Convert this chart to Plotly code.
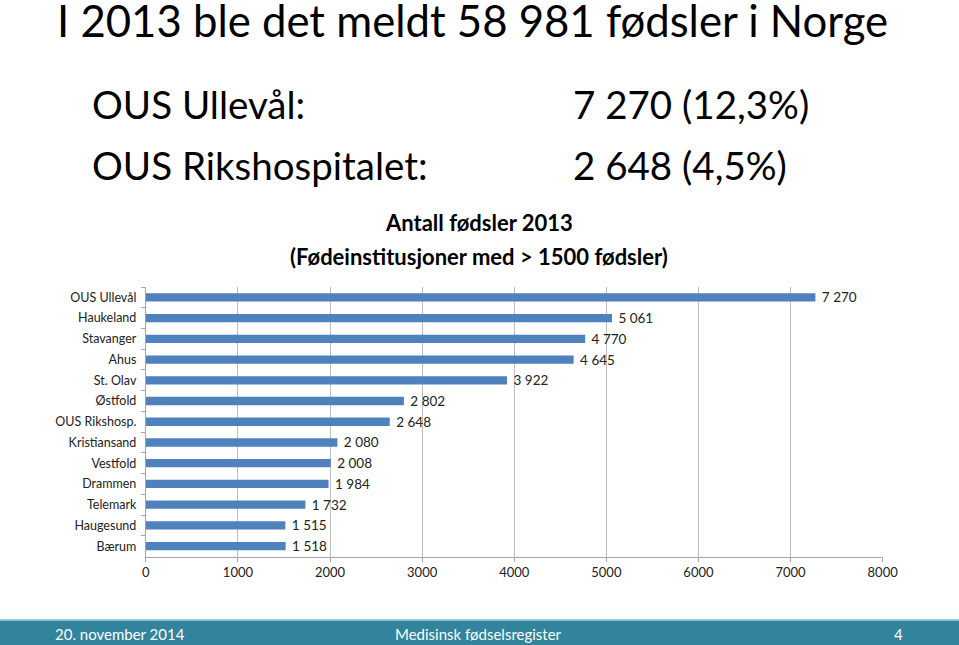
import plotly.graph_objects as go

categories = ["OUS Ullevål", "Haukeland", "Stavanger", "Ahus", "St. Olav", "Østfold",
              "OUS Rikshosp.", "Kristiansand", "Vestfold", "Drammen", "Telemark",
              "Haugesund", "Bærum"]
values = [7270, 5061, 4770, 4645, 3922, 2802, 2648, 2080, 2008, 1984, 1732, 1515, 1518]
x_ticks = [0, 1000, 2000, 3000, 4000, 5000, 6000, 7000, 8000]

W, H = 959, 645
FONT = "Lato"
# observed rendering maps paper [0,1] onto screen x 5..943
X0, XW = 5.0, 938.0

def py(y):
    return 1 - y / H

def px(x):
    return (x - X0) / XW

fig = go.Figure()
fig.add_trace(go.Bar(
    y=categories, x=values, orientation="h",
    marker=dict(color="#4F81BD", line=dict(width=0)),
    texttemplate="\u00a0%{x:,}", textposition="outside", cliponaxis=False,
    constraintext="none",
    textfont=dict(family=FONT, size=13.5, color="#222222"),
    hoverinfo="skip",
))

fig.update_layout(
    width=W, height=H,
    margin=dict(l=0, r=0, t=0, b=0),
    paper_bgcolor="white", plot_bgcolor="white",
    separators=", ",
    showlegend=False,
    bargap=0.6,
    font=dict(family=FONT, color="#222222"),
    xaxis=dict(
        domain=[px(146.7), px(882.7)],
        range=[0, 8000], tickvals=x_ticks,
        showgrid=True, gridcolor="#BFBFBF", gridwidth=1,
        showline=True, linecolor="#A6A6A6", linewidth=1,
        ticks="outside", ticklen=4, tickcolor="#A6A6A6",
        tickfont=dict(family=FONT, size=13, color="#222222"),
        zeroline=False, fixedrange=True,
    ),
    yaxis=dict(
        domain=[py(556.5), py(287)],
        autorange="reversed", type="category",
        showline=True, linecolor="#A6A6A6", linewidth=1,
        ticks="outside", ticklen=4, tickcolor="#A6A6A6", tickson="boundaries",
        ticklabelstandoff=6,
        tickfont=dict(family=FONT, size=12.5, color="#222222"),
        showgrid=False, fixedrange=True,
    ),
)

anns = [
    dict(text="I 2013 ble det meldt 58 981 fødsler i Norge", x=px(56), y=py(20),
         xanchor="left", yanchor="middle", font=dict(size=43.7, color="black")),
    dict(text="OUS Ullevål:", x=px(91), y=py(104), xanchor="left", yanchor="middle",
         font=dict(size=38.5, color="black")),
    dict(text="7 270 (12,3%)", x=px(571), y=py(104), xanchor="left", yanchor="middle",
         font=dict(size=38.5, color="black")),
    dict(text="OUS Rikshospitalet:", x=px(91), y=py(165), xanchor="left", yanchor="middle",
         font=dict(size=38.5, color="black")),
    dict(text="2 648 (4,5%)", x=px(571), y=py(165), xanchor="left", yanchor="middle",
         font=dict(size=38.5, color="black")),
    dict(text="<b>Antall fødsler 2013</b>", x=px(479), y=py(222), xanchor="center",
         yanchor="middle", font=dict(size=22, color="black")),
    dict(text="<b>(Fødeinstitusjoner med > 1500 fødsler)</b>", x=px(479), y=py(256),
         xanchor="center", yanchor="middle", font=dict(size=22, color="black")),
    dict(text="20. november 2014", x=px(54), y=py(634), xanchor="left", yanchor="middle",
         font=dict(size=15, color="white")),
    dict(text="Medisinsk fødselsregister", x=px(479), y=py(634), xanchor="center",
         yanchor="middle", font=dict(size=15, color="white")),
    dict(text="4", x=px(905), y=py(634), xanchor="right", yanchor="middle",
         font=dict(size=15, color="white")),
]
for a in anns:
    a.update(xref="paper", yref="paper", showarrow=False)
    a["font"]["family"] = FONT
    fig.add_annotation(**a)

fig.add_shape(type="rect", xref="paper", yref="paper", x0=px(0), x1=px(959), y0=0,
              y1=py(620.5), fillcolor="#31849B", line=dict(width=0), layer="below")
fig.add_shape(type="line", xref="paper", yref="paper", x0=px(0), x1=px(959), y0=py(620),
              y1=py(620), line=dict(color="#7FBFCF", width=1.5))

fig.write_html("out.html",
               config=dict(displayModeBar=False),
               post_script=("document.body.style.margin='0';"
                            "document.body.style.overflow='hidden';"
                            "document.documentElement.style.overflow='hidden';"))
